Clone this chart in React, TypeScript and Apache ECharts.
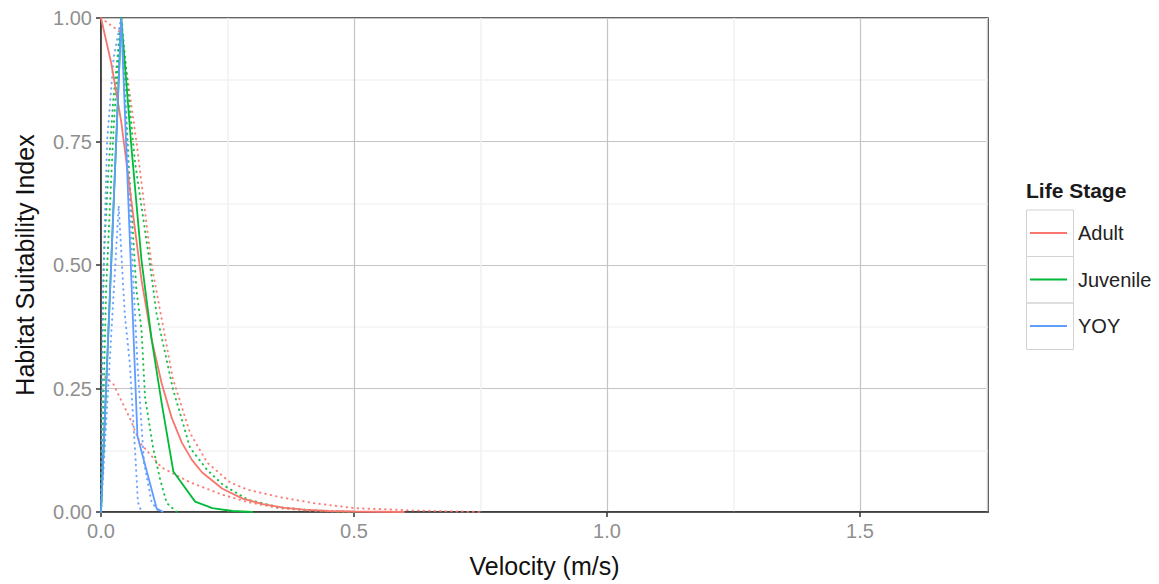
import React, { useEffect, useRef } from "react";
import * as echarts from "echarts";

// ---- Data ----
const xTicks = [0, 0.5, 1.0, 1.5];
const yTicks = [0, 0.25, 0.5, 0.75, 1.0];
const stages = ["Adult", "Juvenile", "YOY"];
const stageColors = ["#F8766D", "#00BA38", "#619CFF"];

// Solid curves
const adultVel = [0, 0.02, 0.04, 0.06, 0.08, 0.1, 0.12, 0.14, 0.16, 0.18, 0.2, 0.24, 0.28, 0.32, 0.36, 0.4, 0.45, 0.5, 0.6];
const adultHsi = [1.0, 0.91, 0.79, 0.63, 0.47, 0.35, 0.26, 0.19, 0.14, 0.105, 0.08, 0.047, 0.027, 0.016, 0.009, 0.005, 0.002, 0.001, 0];

const juvVel = [0, 0.04, 0.06, 0.08, 0.1, 0.12, 0.143, 0.186, 0.22, 0.26, 0.3];
const juvHsi = [0, 1.0, 0.74, 0.51, 0.35, 0.22, 0.082, 0.021, 0.008, 0.002, 0];

const yoyVel = [0, 0.04, 0.072, 0.11, 0.123];
const yoyHsi = [0, 1.0, 0.154, 0.007, 0];

// Dotted curves
const adultUpVel = [0, 0.04, 0.07, 0.1, 0.142, 0.176, 0.21, 0.255, 0.29, 0.354, 0.42, 0.5, 0.62, 0.75];
const adultUpHsi = [1.0, 0.97, 0.75, 0.5, 0.27, 0.16, 0.1, 0.06, 0.045, 0.03, 0.018, 0.008, 0.003, 0];
const adultLoVel = [0, 0.024, 0.057, 0.077, 0.12, 0.176, 0.24, 0.29, 0.35, 0.42, 0.5];
const adultLoHsi = [0.28, 0.26, 0.19, 0.14, 0.09, 0.06, 0.035, 0.02, 0.008, 0.002, 0];

const juvUpVel = [0, 0.003, 0.006, 0.014, 0.024, 0.04, 0.067, 0.097, 0.11, 0.142, 0.176, 0.21, 0.241, 0.29, 0.35, 0.42, 0.5];
const juvUpHsi = [0, 0.35, 0.52, 0.68, 0.83, 1.0, 0.71, 0.5, 0.4, 0.25, 0.13, 0.085, 0.055, 0.025, 0.01, 0.003, 0];
const juvLoVel = [0, 0.01, 0.025, 0.04, 0.055, 0.07, 0.08, 0.087, 0.103, 0.117, 0.13, 0.15];
const juvLoHsi = [0, 0.45, 0.78, 1.0, 0.7, 0.45, 0.37, 0.233, 0.13, 0.065, 0.018, 0];

const yoyUpVel = [0, 0.004, 0.012, 0.025, 0.04, 0.06, 0.072, 0.085, 0.1, 0.115];
const yoyUpHsi = [0, 0.45, 0.75, 0.92, 1.0, 0.55, 0.3, 0.1, 0.02, 0];
const yoyLoVel = [0, 0.035, 0.047, 0.057, 0.067, 0.073, 0.08];
const yoyLoHsi = [0, 0.62, 0.4, 0.3, 0.13, 0.02, 0];

const pairs = (xs: number[], ys: number[]) => xs.map((x, i) => [x, ys[i]]);

export default function App() {
  const ref = useRef<HTMLDivElement>(null);

  useEffect(() => {
    if (!ref.current) return;
    const chart = echarts.init(ref.current, undefined, { renderer: "svg" });
    const font = "'Liberation Sans', Arial, sans-serif";

    const dotted = (name: string, color: string, xs: number[], ys: number[]) => ({
      name,
      type: "line",
      data: pairs(xs, ys),
      symbol: "none",
      showSymbol: false,
      z: 2,
      lineStyle: { color, width: 2, type: [0.5, 5], cap: "round", opacity: 0.9 },
      itemStyle: { color },
      silent: true,
    });
    const solid = (name: string, color: string, xs: number[], ys: number[]) => ({
      name,
      type: "line",
      data: pairs(xs, ys),
      symbol: "none",
      showSymbol: false,
      z: 3,
      lineStyle: { color, width: 1.8, type: "solid" },
      itemStyle: { color },
    });

    const option: any = {
      animation: false,
      backgroundColor: "#ffffff",
      textStyle: { fontFamily: font },
      grid: {
        left: 101,
        top: 18,
        width: 887,
        height: 494,
        show: true,
        borderColor: "#333333",
        borderWidth: 1.5,
        backgroundColor: "transparent",
      },
      title: {
        text: "Life Stage",
        left: 1026,
        top: 180,
        padding: 0,
        textStyle: { fontSize: 21, fontWeight: "bold", color: "#1a1a1a", fontFamily: font },
      },
      legend: {
        data: stages,
        orient: "vertical",
        left: 1030,
        top: 210,
        padding: 0,
        itemGap: 0.5,
        itemWidth: 37,
        itemHeight: 2,
        icon: "rect",
        selectedMode: false,
        textStyle: {
          fontSize: 20,
          color: "#222222",
          lineHeight: 46,
          padding: [0, 0, 0, 6],
          fontFamily: font,
        },
      },
      graphic: stages.map((s, i) => ({
        type: "rect",
        shape: { x: 1026.5, y: 210 + i * 46.5, width: 47, height: 46.5 },
        style: { fill: "none", stroke: "#d2d2d2", lineWidth: 1 },
        silent: true,
        z: 1,
      })),
      xAxis: {
        type: "value",
        min: 0,
        max: 1.753,
        interval: 0.5,
        name: "Velocity (m/s)",
        nameLocation: "middle",
        nameGap: 41,
        nameTextStyle: { fontSize: 25, color: "#111111", fontFamily: font },
        axisLine: { show: true, onZero: false, lineStyle: { color: "#333333", width: 1.5 } },
        axisTick: {
          show: true,
          length: 5,
          customValues: xTicks,
          lineStyle: { color: "#333333", width: 1.5 },
        },
        axisLabel: {
          customValues: xTicks,
          formatter: (v: number) => v.toFixed(1),
          fontSize: 20,
          color: "#8f8f8f",
          margin: 9,
          fontFamily: font,
        },
        splitLine: { show: true, lineStyle: { color: "#c4c4c4", width: 1.2 } },
        minorTick: { show: false, splitNumber: 2 },
        minorSplitLine: { show: true, lineStyle: { color: "#f1f1f1", width: 1.5 } },
      },
      yAxis: {
        type: "value",
        min: 0,
        max: 1,
        interval: 0.25,
        name: "Habitat Suitability Index",
        nameLocation: "middle",
        nameRotate: 90,
        nameGap: 64,
        nameTextStyle: { fontSize: 25, color: "#111111", fontFamily: font },
        axisLine: { show: true, lineStyle: { color: "#333333", width: 1.5 } },
        axisTick: { show: true, length: 5, customValues: yTicks, lineStyle: { color: "#333333", width: 1.5 } },
        axisLabel: {
          customValues: yTicks,
          formatter: (v: number) => v.toFixed(2),
          fontSize: 20,
          color: "#8f8f8f",
          margin: 9,
          fontFamily: font,
        },
        splitLine: { show: true, lineStyle: { color: "#c4c4c4", width: 1.2 } },
        minorTick: { show: false, splitNumber: 2 },
        minorSplitLine: { show: true, lineStyle: { color: "#f3f3f3", width: 1.5 } },
      },
      series: [
        dotted("Adult upper", stageColors[0], adultUpVel, adultUpHsi),
        dotted("Adult lower", stageColors[0], adultLoVel, adultLoHsi),
        dotted("Juvenile upper", stageColors[1], juvUpVel, juvUpHsi),
        dotted("Juvenile lower", stageColors[1], juvLoVel, juvLoHsi),
        dotted("YOY upper", stageColors[2], yoyUpVel, yoyUpHsi),
        dotted("YOY lower", stageColors[2], yoyLoVel, yoyLoHsi),
        solid(stages[0], stageColors[0], adultVel, adultHsi),
        solid(stages[1], stageColors[1], juvVel, juvHsi),
        solid(stages[2], stageColors[2], yoyVel, yoyHsi),
      ],
    };

    chart.setOption(option);
    return () => chart.dispose();
  }, []);

  return (
    <div
      ref={ref}
      style={{ position: "fixed", left: 0, top: 0, width: 1159, height: 584, background: "#fff" }}
    />
  );
}
